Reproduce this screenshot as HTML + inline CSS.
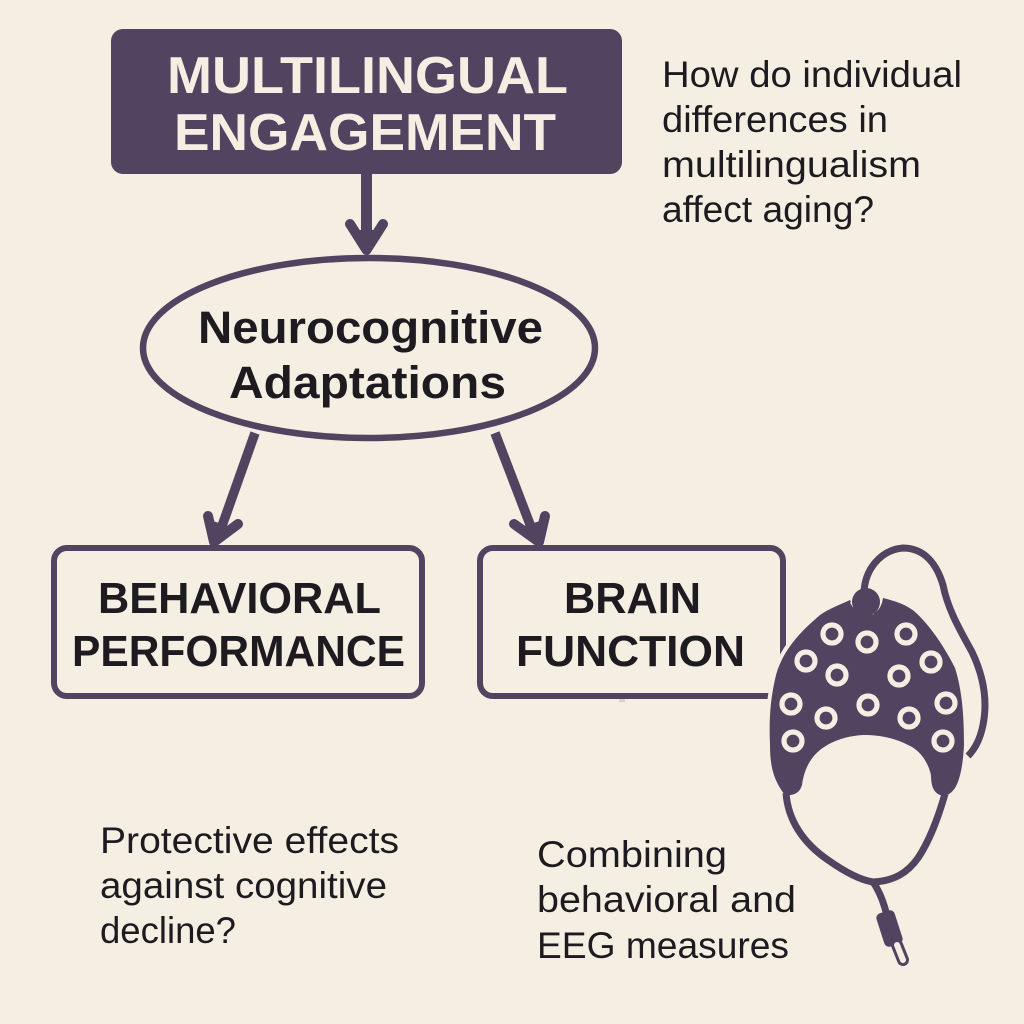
<!DOCTYPE html>
<html><head><meta charset="utf-8"><style>
html,body{margin:0;padding:0;background:#f5efe3}
svg{display:block}
text{font-family:"Liberation Sans",sans-serif}
.b{font-weight:bold;fill:#1d1b20}
.r{fill:#1d1b20;font-size:37px}
</style></head><body>
<svg width="1024" height="1024" viewBox="0 0 1024 1024" xmlns="http://www.w3.org/2000/svg">
<rect width="1024" height="1024" fill="#f5efe3"/>
<!-- top box -->
<rect x="111" y="29" width="511" height="145" rx="12" fill="#514460"/>
<text x="167" y="93" font-size="52" font-weight="bold" fill="#f5efe3" textLength="401" lengthAdjust="spacingAndGlyphs">MULTILINGUAL</text>
<text x="174" y="150" font-size="52" font-weight="bold" fill="#f5efe3" textLength="382" lengthAdjust="spacingAndGlyphs">ENGAGEMENT</text>
<!-- ellipse -->
<ellipse cx="369" cy="348" rx="226" ry="90" fill="#f5efe3" stroke="#514460" stroke-width="6.5"/>
<text class="b" x="198" y="343" font-size="45" textLength="345" lengthAdjust="spacingAndGlyphs">Neurocognitive</text>
<text class="b" x="229" y="398" font-size="45" textLength="277" lengthAdjust="spacingAndGlyphs">Adaptations</text>
<!-- arrows -->
<g fill="none" stroke="#514460" stroke-linecap="round" stroke-linejoin="round">
<path d="M366.500 174V248" stroke-width="11" stroke-linecap="butt"/>
<path d="M350 224L366.500 250L383 224" stroke-width="10"/>
<path d="M255 433L217 540" stroke-width="9.500" stroke-linecap="butt"/>
<path d="M208 516L214 542L238 524" stroke-width="10"/>
<path d="M495 433L536 540" stroke-width="9.500" stroke-linecap="butt"/>
<path d="M545 516L539 542L514 524" stroke-width="10"/>
</g>
<path d="M366 254L352 230L381 230Z" fill="#514460"/>
<path d="M210 546L210 520L234 528Z" fill="#514460"/>
<path d="M543 546L543 520L518 528Z" fill="#514460"/>
<!-- boxes -->
<rect x="54" y="548" width="368" height="148" rx="13" fill="#f5efe3" stroke="#514460" stroke-width="6"/>
<rect x="480" y="548" width="303" height="148" rx="13" fill="#f5efe3" stroke="#514460" stroke-width="6"/>
<rect x="619" y="699" width="6" height="3" fill="#d8d2cc"/>
<text class="b" x="98" y="613" font-size="44" textLength="283" lengthAdjust="spacingAndGlyphs">BEHAVIORAL</text>
<text class="b" x="72" y="666" font-size="44" textLength="333" lengthAdjust="spacingAndGlyphs">PERFORMANCE</text>
<text class="b" x="564" y="613" font-size="44" textLength="137" lengthAdjust="spacingAndGlyphs">BRAIN</text>
<text class="b" x="516" y="666" font-size="44" textLength="229" lengthAdjust="spacingAndGlyphs">FUNCTION</text>
<!-- body text -->
<text class="r" x="662" y="87" textLength="300" lengthAdjust="spacingAndGlyphs">How do individual</text>
<text class="r" x="662" y="132" textLength="226" lengthAdjust="spacingAndGlyphs">differences in</text>
<text class="r" x="662" y="177" textLength="259" lengthAdjust="spacingAndGlyphs">multilingualism</text>
<text class="r" x="662" y="222" textLength="212" lengthAdjust="spacingAndGlyphs">affect aging?</text>
<text class="r" x="100" y="853" textLength="299" lengthAdjust="spacingAndGlyphs">Protective effects</text>
<text class="r" x="100" y="898" textLength="287" lengthAdjust="spacingAndGlyphs">against cognitive</text>
<text class="r" x="100" y="943" textLength="136" lengthAdjust="spacingAndGlyphs">decline?</text>
<text class="r" x="537" y="867" textLength="190" lengthAdjust="spacingAndGlyphs">Combining</text>
<text class="r" x="537" y="912" textLength="259" lengthAdjust="spacingAndGlyphs">behavioral and</text>
<text class="r" x="537" y="958" textLength="252" lengthAdjust="spacingAndGlyphs">EEG measures</text>
<!-- EEG cap -->
<path d="M785 795C773 780 770 765 770 745C769 720 770 700 776 675C783 650 800 632 820 615C830 608 842 604 850 600C855 610 866 614 874 613C880 610 882 604 883 598C895 601 905 604 914 611C930 625 945 648 955 668C962 690 964 715 964 745C963 765 960 780 955 788C950 795 945 797 940 795C933 792 931 785 931 775C928 762 920 750 908 745C895 738 880 735 863 735C845 736 830 742 820 750C810 758 804 770 802 785C800 792 795 796 785 795Z" fill="#514460" stroke="#f5efe3" stroke-width="8" paint-order="stroke"/>
<g fill="none" stroke="#514460" stroke-linecap="butt">
<path d="M786 793C788 820 803 843 828 860C845 872 860 880 873 882C895 881 908 872 918 858C930 840 938 818 945 794" stroke-width="7"/>
<path d="M873 882C880 892 884 903 887 916" stroke-width="7"/>
<path d="M864 592C865 570 880 550 903 548C925 548 937 565 943 585C948 610 960 630 972 652C983 675 988 700 983 725C980 740 974 750 968 756" stroke-width="7"/>
</g>
<path d="M851 602C855 612 866 615 874 613" fill="none" stroke="#f5efe3" stroke-width="2"/>
<circle cx="866" cy="602" r="14" fill="#514460"/>
<rect x="880" y="911" width="19" height="35" rx="5" fill="#514460" transform="rotate(-18 889.500 928.500)"/>
<path d="M897 945L903 960" stroke="#514460" stroke-width="12" stroke-linecap="round"/>
<path d="M897 945L903 960" stroke="#f5efe3" stroke-width="6" stroke-linecap="round"/>
<g fill="#514460" stroke="#f5efe3" stroke-width="5.200">
<circle cx="832" cy="634" r="9"/>
<circle cx="867" cy="642" r="9"/>
<circle cx="906" cy="634" r="9"/>
<circle cx="931" cy="662" r="9"/>
<circle cx="806" cy="661" r="9"/>
<circle cx="837" cy="675" r="9"/>
<circle cx="899" cy="676" r="9"/>
<circle cx="791" cy="704" r="9"/>
<circle cx="826" cy="718" r="9"/>
<circle cx="868" cy="705" r="9"/>
<circle cx="909" cy="718" r="9"/>
<circle cx="946" cy="703" r="9"/>
<circle cx="793" cy="741" r="9"/>
<circle cx="943" cy="741" r="9"/>
</g>
</svg>
</body></html>
